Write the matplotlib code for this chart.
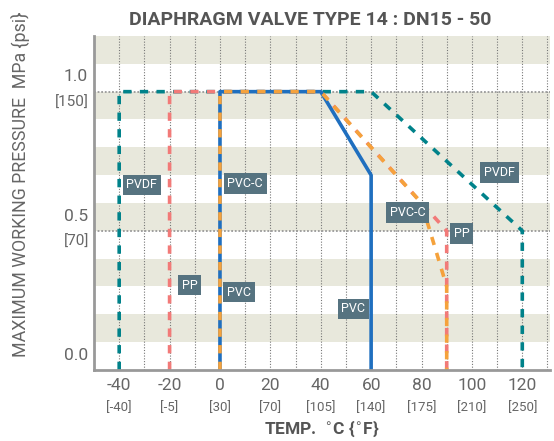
import matplotlib.pyplot as plt
import matplotlib.transforms as mtransforms

plt.rcParams['font.family'] = ['Roboto', 'DejaVu Sans']

# data
temp_ticks = [-40, -20, 0, 20, 40, 60, 80, 100, 120]
temp_f = ['[-40]', '[-5]', '[30]', '[70]', '[105]', '[140]', '[175]', '[210]', '[250]']
p_ticks = [1.0, 0.5, 0.0]
p_psi = ['[150]', '[70]', '']

pvdf_t = [-40, -40, 60, 120, 120]
pvdf_p = [0, 1.0, 1.0, 0.5, 0]
pp_t = [-20, -20, 40, 90, 90]
pp_p = [0, 1.0, 1.0, 0.5, 0]
pvc_t = [0, 0, 40, 60, 60]
pvc_p = [0, 1.0, 1.0, 0.7, 0]
pvcc_t = [0, 0, 40, 80, 90, 90]
pvcc_p = [0, 1.0, 1.0, 0.6, 0.3, 0]

labels = ['PVDF', 'PVC-C', 'PVDF', 'PVC-C', 'PP', 'PP', 'PVC', 'PVC']
label_t = [-31, 10, 111, 74.5, 96, -12, 7.5, 53]
label_p = [0.665, 0.67, 0.71, 0.565, 0.49, 0.305, 0.28, 0.22]

teal = '#00828a'
salmon = '#f27a78'
blue = '#1f6fbf'
orange = '#f5a23c'
grey = '#666666'

fig = plt.figure(figsize=(5.54, 4.41), dpi=100)
ax = fig.add_axes([94/554, 1-370/441, 456/554, 334/441])
ax.set_xlim(-50, 131)
ax.set_ylim(0, 1.2)

# alternating bands
for i in range(12):
    if i % 2 == 1:
        ax.axhspan(i*0.1, (i+1)*0.1, color='#e8e8dc', lw=0, zorder=0)

# grid
for t in range(-40, 131, 10):
    ax.axvline(t, color='#777777', lw=0.8, ls=(0, (1, 1.5)), zorder=1)
for p in [1.0, 0.5]:
    ax.axhline(p, color='#999999', lw=1.3, ls=(0, (1, 1)), zorder=1)

lw = 2.6
ax.plot(pvdf_t, pvdf_p, color=teal, lw=lw, dashes=(2.3, 2.3), zorder=2)
ax.plot(pp_t, pp_p, color=salmon, lw=lw, dashes=(2.3, 2.3), zorder=3)
ax.plot(pvc_t, pvc_p, color=blue, lw=lw, zorder=4)
ax.plot(pvcc_t, pvcc_p, color=orange, lw=lw, dashes=(2.3, 2.3), zorder=5)

for name, t, p in zip(labels, label_t, label_p):
    ax.text(t, p, name, color='white', fontsize=9, ha='center', va='center', zorder=6,
            bbox=dict(boxstyle='square,pad=0.3', fc='#567380', ec='none'))

for s in ['top', 'right']:
    ax.spines[s].set_visible(False)
for s in ['left', 'bottom']:
    ax.spines[s].set_color('#999999')
    ax.spines[s].set_linewidth(2)
    ax.spines[s].set_zorder(7)

ax.set_xticks(temp_ticks)
ax.set_xticklabels([])
ax.set_yticks(p_ticks)
ax.set_yticklabels([])
ax.tick_params(length=0)

xtr = mtransforms.blended_transform_factory(ax.transData, fig.transFigure)
for t, f in zip(temp_ticks, temp_f):
    ax.text(t, 1-385/441, str(t), transform=xtr, ha='center', va='center',
            fontsize=12.5, color=grey)
    ax.text(t, 1-408/441, f, transform=xtr, ha='center', va='center', fontsize=9.5, color=grey)

ytr = mtransforms.blended_transform_factory(fig.transFigure, ax.transData)
for p, f in zip(p_ticks, p_psi):
    ax.text(88/554, p + 0.053, f'{p:.1f}', transform=ytr, ha='right', va='center',
            fontsize=12.5, color=grey)
    if f:
        ax.text(89/554, p - 0.04, f, transform=ytr, ha='right', va='center',
                fontsize=11, color=grey)

fig.text(310/554, 1-20/441, 'DIAPHRAGM VALVE TYPE 14 : DN15 - 50', ha='center', va='center',
         fontsize=14, fontweight='bold', color='#555555')
fig.text(20/554, 1-357/441, 'MAXIMUM WORKING PRESSURE  MPa {psi}', rotation=90,
         ha='center', va='bottom', fontsize=12.8, color=grey)
fig.text(322/554, 1-429/441, 'TEMP.  $^{\\circ}$C {$^{\\circ}$F}', ha='center', va='center',
         fontsize=12.5, fontweight='bold', color='#555555')

fig.savefig('out.png', dpi=100)
